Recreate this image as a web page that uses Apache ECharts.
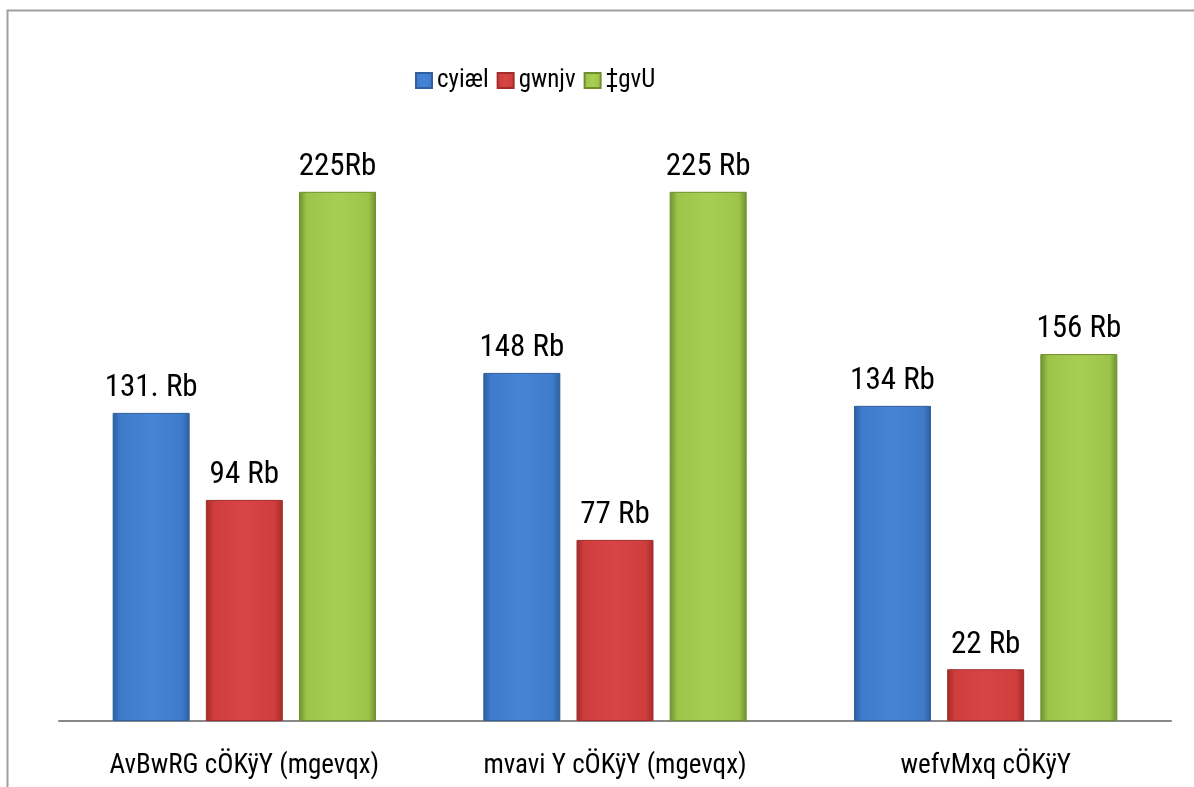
<!DOCTYPE html>
<html>
<head>
<meta charset="utf-8">
<script src="https://cdn.jsdelivr.net/npm/echarts@6/dist/echarts.min.js"></script>
<style>
html,body{margin:0;padding:0;background:#fff;}
#chart{width:1194px;height:787px;}
</style>
</head>
<body>
<div id="chart"></div>
<script>
const categories = ['AvBwRG cÖKÿY (mgevqx)', 'mvavi Y cÖKÿY (mgevqx)', 'wefvMxq cÖKÿY'];
const seriesNames = ['cyiæl', 'gwnjv', '‡gvU'];
const maleValues = [131, 148, 134];
const femaleValues = [94, 77, 22];
const totalValues = [225, 225, 156];
const maleLabels = ['131. Rb', '148 Rb', '134 Rb'];
const femaleLabels = ['94 Rb', '77 Rb', '22 Rb'];
const totalLabels = ['225Rb', '225 Rb', '156 Rb'];

const FONT = "'Roboto Condensed', 'Liberation Sans Narrow', sans-serif";

function grad(dark, mid, light) {
  return new echarts.graphic.LinearGradient(0, 0, 1, 0, [
    {offset: 0, color: dark},
    {offset: 0.1, color: mid},
    {offset: 0.5, color: light},
    {offset: 0.9, color: mid},
    {offset: 1, color: dark}
  ]);
}

const styles = [
  {color: grad('#2d5e9e', '#3f7bcb', '#4684d6'), border: '#2f5f9c', legend: '#4080d0'},
  {color: grad('#a02a2a', '#cf3d3d', '#d94545'), border: '#a32d2d', legend: '#d04040'},
  {color: grad('#6f8f2e', '#9cc44a', '#a6cf52'), border: '#6f8f2e', legend: '#9cc84a'}
];

const valueSets = [maleValues, femaleValues, totalValues];
const labelSets = [maleLabels, femaleLabels, totalLabels];

const series = seriesNames.map((name, i) => ({
  name: name,
  type: 'bar',
  barWidth: 77,
  barGap: '21%',
  data: valueSets[i].map((v, j) => ({value: v, label: {formatter: labelSets[i][j]}})),
  itemStyle: {color: styles[i].color, borderColor: styles[i].border, borderWidth: 1},
  label: {
    show: true,
    position: 'top',
    distance: 9,
    color: '#000',
    fontSize: 31,
    fontFamily: FONT
  }
}));

const chart = echarts.init(document.getElementById('chart'), null, {renderer: 'canvas'});
chart.setOption({
  animation: false,
  color: styles.map(s => s.legend),
  graphic: [{
    type: 'rect',
    shape: {x: 7.5, y: 10.5, width: 1300, height: 900},
    style: {fill: 'none', stroke: '#a0a0a0', lineWidth: 2},
    silent: true,
    z: -1
  }],
  legend: {
    left: 410,
    top: 63,
    itemWidth: 16,
    itemHeight: 15,
    itemGap: 8,
    icon: 'rect',
    textStyle: {fontSize: 25, fontFamily: FONT, color: '#000'},
    data: seriesNames
  },
  grid: {left: 59, right: 23, top: 133, bottom: 66, containLabel: false},
  xAxis: {
    type: 'category',
    data: categories,
    axisLine: {lineStyle: {color: '#888', width: 2}},
    axisTick: {show: false},
    axisLabel: {color: '#000', fontSize: 27, fontFamily: FONT, margin: 32, interval: 0}
  },
  yAxis: {
    type: 'value',
    min: 0,
    max: 250,
    show: false,
    splitLine: {show: false}
  },
  series: series
});
</script>
</body>
</html>
